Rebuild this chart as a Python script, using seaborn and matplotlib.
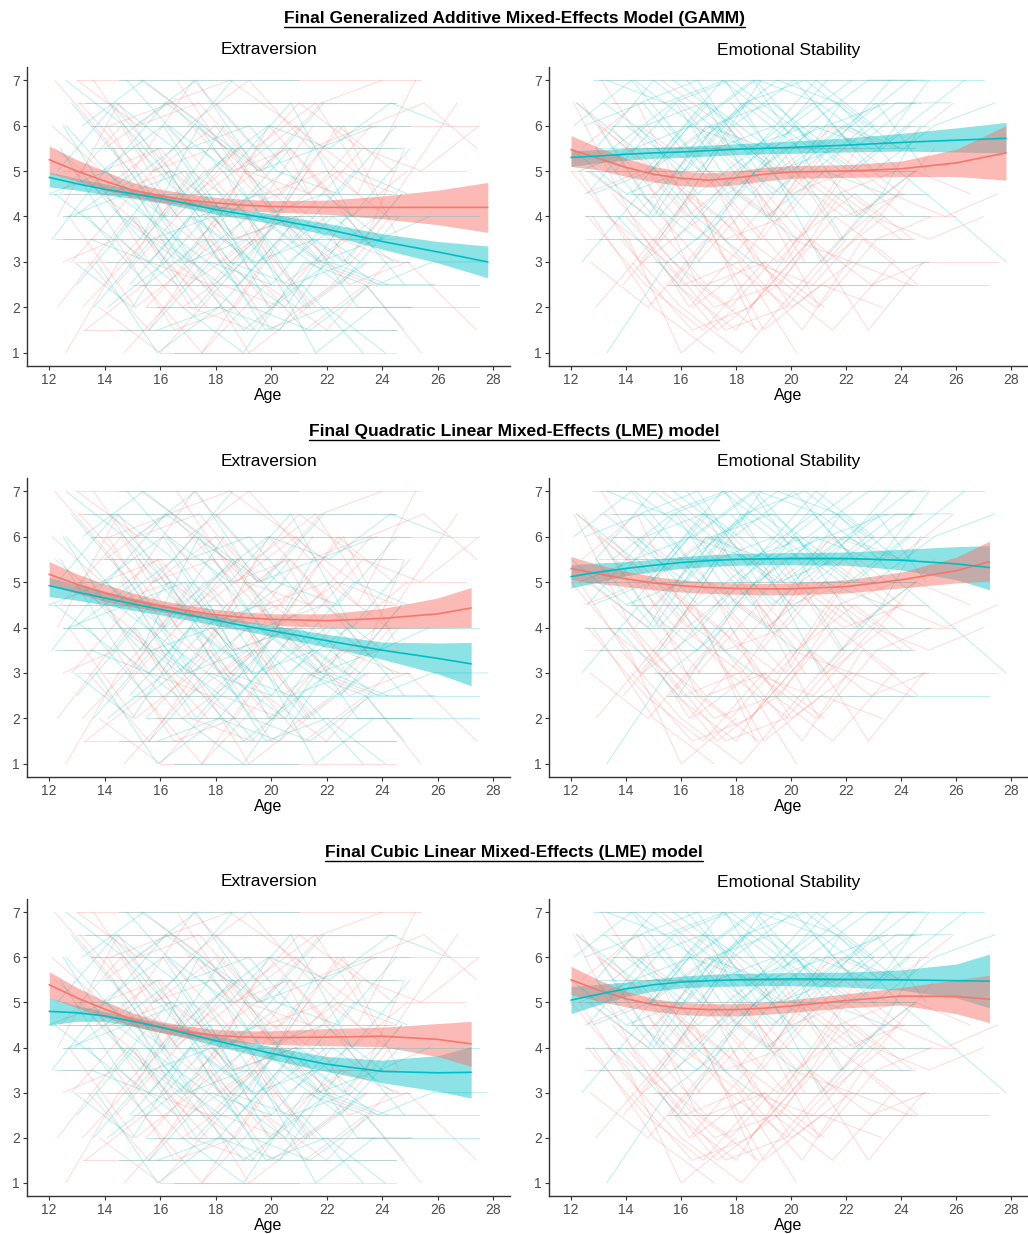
import matplotlib
matplotlib.use("Agg")
from matplotlib import pyplot as plt
from matplotlib.lines import Line2D
import pandas as pd
import seaborn as sns

RED = "#F8766D"
TEAL = "#00BFC4"

# ---------------- individual trajectories ----------------
ext_f_age = [
    [12.2, 14.3, 16.1, 18.2], [12.6, 14.5, 16.7, 18.9, 21.0], [13.0, 15.2, 17.4, 19.5],
    [12.3, 14.8, 16.9, 19.1, 21.4, 23.6], [13.5, 15.6, 17.8, 20.1, 22.3],
    [14.2, 16.4, 18.6, 20.7, 22.9, 24.9], [12.1, 13.9, 16.0], [15.0, 17.1, 19.3, 21.5, 23.7],
    [12.8, 15.0, 17.2, 19.6, 21.8, 24.0], [13.3, 15.4, 17.5, 19.7], [16.0, 18.1, 20.3, 22.5, 24.6],
    [14.6, 16.8, 19.0, 21.2, 23.4, 25.4], [12.4, 14.6, 16.6], [17.0, 19.2, 21.4, 23.5, 25.5, 27.4],
    [13.8, 16.0, 18.2, 20.4], [15.3, 17.6, 19.8, 22.0, 24.2], [12.9, 14.9, 17.0, 19.4, 21.6],
    [18.5, 20.6, 22.8, 24.9, 27.4], [14.0, 16.3, 18.5, 20.8, 23.0], [12.5, 14.4, 16.5, 18.7],
    [16.5, 18.7, 20.9, 23.1, 25.2], [13.1, 15.3, 17.3, 19.5, 21.7, 23.8], [14.4, 16.6, 18.8],
    [12.7, 15.1, 17.2, 19.2, 21.3], [15.7, 17.9, 20.2, 22.4, 24.5, 26.7], [13.6, 15.8, 18.0, 20.1],
    [17.5, 19.8, 22.0, 24.2], [12.2, 14.2, 16.4, 18.6, 20.9], [14.9, 17.1, 19.3, 21.5],
    [16.2, 18.4, 20.5, 22.7, 24.7], [13.2, 15.5, 17.7], [19.0, 21.1, 23.3, 25.4, 27.5],
    [14.1, 16.2, 18.3, 20.4, 22.6], [15.5, 17.7, 19.9, 22.1], [13.7, 15.9, 18.1, 20.2, 22.4, 24.4],
    [16.6, 18.8, 21.0, 23.2], [14.7, 16.9, 19.1, 21.3, 23.5], [12.3, 14.5, 16.7, 18.9],
    [17.8, 20.0, 22.2, 24.3], [15.0, 17.2, 19.4, 21.6, 23.7], [13.4, 15.6, 17.8, 20.0],
    [16.9, 19.1, 21.3, 23.4, 24.8], [14.3, 16.5, 18.7, 20.9], [18.2, 20.4, 22.6, 24.6],
]
ext_f_val = [
    [7, 5.5, 4, 3], [1, 3, 4.5, 3.5, 5], [7, 6, 6.5, 5],
    [2, 4, 3, 5, 4.5, 6], [5, 3, 2.5, 4, 3],
    [6, 6.5, 5, 5.5, 4, 5], [6, 5, 5.5], [4, 2, 1.5, 3, 2.5],
    [3, 4.5, 6, 5, 6.5, 7], [1.5, 2.5, 1, 3], [5.5, 4, 4.5, 3.5, 3],
    [3.5, 2, 3, 1.5, 2.5, 1], [4.5, 6, 4], [6, 7, 5.5, 6, 6.5, 5.5],
    [2, 1, 2.5, 2], [7, 6, 4.5, 5, 4], [5, 4, 2.5, 3.5, 2],
    [3, 4, 2.5, 3, 1.5], [5.5, 6.5, 7, 6, 5], [3, 3.5, 1.5, 2],
    [4, 5, 6, 4.5, 7], [6.5, 5, 3.5, 4.5, 3, 4], [2.5, 4, 5.5],
    [4, 2, 3, 1, 2], [5, 5.5, 4, 5, 4.5, 6.5], [7, 5, 6, 4],
    [1, 2.5, 1.5, 3], [5.5, 4.5, 5, 3.5, 4], [3, 5, 4, 6],
    [6, 4.5, 5.5, 3, 4.5], [2, 3.5, 2], [5, 4, 5.5, 5, 6],
    [6, 4, 5, 2.5, 3.5], [2, 3.5, 6, 4.5], [4.5, 5.5, 3, 4, 6, 5],
    [7, 5, 6.5, 5.5], [1, 2.5, 4, 2, 3], [4, 6.5, 4.5, 5.5],
    [3.5, 1.5, 2.5, 4], [5, 7, 5.5, 6.5, 4.5], [3, 1.5, 3.5, 2],
    [4.5, 3, 5, 3.5, 5.5], [5.5, 3, 2, 4], [6, 4.5, 6, 3.5],
]
ext_m_age = [
    [12.1, 14.0, 16.1, 18.3], [12.8, 14.9, 17.1, 19.2, 21.4], [13.4, 15.5, 17.6, 19.8, 22.0, 24.1],
    [12.3, 14.4, 16.5, 18.6], [14.1, 16.2, 18.4, 20.6, 22.8], [15.2, 17.4, 19.6, 21.8, 23.9, 25.9],
    [12.6, 14.7, 16.9], [13.7, 15.9, 18.1, 20.3, 22.5], [16.3, 18.5, 20.7, 22.9, 25.0],
    [12.2, 14.3, 16.3, 18.5, 20.7, 22.9], [14.8, 17.0, 19.2, 21.3], [13.0, 15.1, 17.3, 19.4, 21.6, 23.7],
    [17.2, 19.4, 21.6, 23.8, 25.8, 27.8], [12.5, 14.6, 16.7, 18.8], [15.6, 17.8, 20.0, 22.2, 24.4],
    [13.9, 16.1, 18.3, 20.5], [12.9, 15.0, 17.1, 19.3, 21.5], [18.0, 20.2, 22.4, 24.5],
    [14.3, 16.5, 18.7, 20.9, 23.1, 25.1], [12.4, 14.5, 16.6], [16.8, 19.0, 21.2, 23.4, 24.8],
    [13.2, 15.4, 17.5, 19.7, 21.9], [15.4, 17.6, 19.8, 22.0], [12.7, 14.8, 17.0, 19.1, 21.2, 23.4],
    [14.6, 16.8, 19.0, 21.1, 23.3], [17.7, 19.9, 22.1, 24.3, 26.4], [12.0, 14.1, 16.2, 18.4],
    [13.6, 15.7, 17.9, 20.0], [16.0, 18.2, 20.4, 22.6, 24.7], [19.5, 21.7, 23.9, 25.7],
    [13.1, 15.3, 17.4, 19.6, 21.8], [14.9, 17.1, 19.3, 21.4, 23.6], [12.6, 14.8, 16.9, 19.0],
    [16.4, 18.6, 20.8, 23.0, 24.9], [14.2, 16.4, 18.5, 20.7], [15.9, 18.1, 20.3, 22.5, 24.6],
    [13.5, 15.6, 17.8, 19.9, 22.1, 24.2], [17.5, 19.7, 21.9, 24.0], [12.9, 15.1, 17.2, 19.4],
    [15.1, 17.3, 19.5, 21.7, 23.8], [18.3, 20.5, 22.7, 24.8], [14.4, 16.6, 18.8, 21.0, 23.2],
]
ext_m_val = [
    [3.5, 5, 4, 6], [6.5, 5, 3, 4, 2], [4, 2.5, 3.5, 1.5, 2, 1],
    [5, 6.5, 5.5, 7], [2, 3, 4.5, 3, 4], [5.5, 4, 4.5, 3, 2.5, 2.5],
    [7, 6, 4.5], [3, 1, 2, 1.5, 3.5], [6, 5, 6.5, 4, 5.5],
    [4.5, 3.5, 5, 3, 2.5, 3], [7, 5.5, 6, 4.5], [2.5, 4, 2, 3.5, 1, 2],
    [4, 3, 3.5, 2.5, 3, 3], [6, 4, 3, 4.5], [1.5, 3, 2.5, 4, 3],
    [5, 6, 4, 5], [3, 2, 4, 3, 5.5], [6.5, 5, 4.5, 6],
    [4.5, 5.5, 3.5, 4, 2, 2], [5.5, 3.5, 2.5], [2, 1, 3, 2.5, 1.5],
    [6, 7, 6, 5, 6.5], [3.5, 5, 3, 4], [4, 4.5, 3, 3.5, 2, 3],
    [5, 3, 1.5, 2.5, 1], [5, 6, 5.5, 6.5, 6], [4.5, 5, 6.5, 5.5],
    [2, 3.5, 4, 2.5], [3.5, 2.5, 4, 3, 4.5], [4, 3, 3.5, 4],
    [5, 3.5, 6, 4, 3], [2.5, 4, 2, 1.5, 2.5], [6, 4.5, 5, 3],
    [4, 5.5, 3.5, 5, 4.5], [6.5, 5, 4, 5.5], [1.5, 2, 3.5, 2.5, 4],
    [3.5, 3, 4.5, 2, 3, 2.5], [5.5, 4, 4.5, 3.5], [4, 5, 3, 1.5],
    [6, 7, 5, 5.5, 6], [3, 2, 4, 2.5], [4.5, 3.5, 2.5, 4, 3],
]
es_f_age = [
    [12.1, 14.2, 16.3, 18.4], [12.6, 14.7, 16.8, 19.0, 21.2], [13.1, 15.3, 17.4, 19.6, 21.8, 23.9],
    [12.3, 14.5, 16.5, 18.7], [13.8, 16.0, 18.2, 20.3, 22.5], [14.5, 16.7, 18.9, 21.0, 23.2, 25.2],
    [12.4, 14.4, 16.4], [15.2, 17.3, 19.5, 21.6, 23.8], [12.9, 15.0, 17.1, 19.3, 21.4, 23.5],
    [16.1, 18.3, 20.4, 22.6, 24.6], [13.4, 15.6, 17.7, 19.9], [17.0, 19.2, 21.4, 23.6, 25.6, 27.5],
    [14.0, 16.1, 18.1, 20.2], [12.2, 14.0, 16.2, 18.3, 20.5], [15.6, 17.8, 20.0, 22.2, 24.3],
    [13.3, 15.5, 17.6, 19.8, 22.0], [18.0, 20.1, 22.3, 24.5, 26.5], [14.8, 17.0, 19.1, 21.3, 23.4],
    [12.7, 14.8, 16.9], [16.4, 18.6, 20.8, 23.0, 25.0, 27.0], [13.6, 15.8, 17.9, 20.0, 22.1],
    [12.5, 14.6, 16.6, 18.8], [15.9, 18.1, 20.2, 22.4], [14.2, 16.4, 18.5, 20.7, 22.8, 24.8],
    [17.4, 19.6, 21.8, 24.0], [12.0, 14.1, 16.0, 18.0], [13.9, 16.0, 18.2, 20.4, 22.6],
    [19.5, 21.6, 23.8, 25.9], [15.3, 17.5, 19.7, 21.9, 24.1], [12.8, 15.0, 17.2],
    [13.5, 15.7, 17.8, 20.0, 22.2], [15.0, 17.2, 19.4, 21.5, 23.7], [12.6, 14.8, 16.9, 19.1],
    [16.6, 18.8, 21.0, 23.1, 25.1], [14.3, 16.5, 18.7, 20.9], [15.8, 18.0, 20.2, 22.3, 24.4],
    [13.0, 15.1, 17.3, 19.5, 21.7, 23.8], [17.6, 19.8, 22.0, 24.1], [14.6, 16.8, 19.0, 21.1, 23.3],
    [12.4, 14.6, 16.7], [18.5, 20.7, 22.9, 24.9], [15.4, 17.6, 19.8, 21.9, 24.0],
]
es_f_val = [
    [6.5, 4, 2, 3.5], [4, 2.5, 1.5, 3, 2], [7, 5, 4, 5.5, 3.5, 4.5],
    [5, 3, 4.5, 1.5], [3.5, 2, 1, 2.5, 4], [6, 5, 3.5, 5, 4, 5.5],
    [5.5, 6.5, 4], [3, 1.5, 2.5, 4, 3], [2, 3.5, 5, 4, 6, 5],
    [4.5, 3, 1.5, 3.5, 2.5], [6, 4.5, 3, 2], [5, 4, 5.5, 4.5, 4, 4.5],
    [4, 2.5, 3, 1], [6.5, 5.5, 4, 5, 3], [2.5, 4, 2, 3, 2.5],
    [4, 3, 1.5, 2, 3.5], [3.5, 5, 4, 5, 4.5], [5, 6, 4.5, 3, 4],
    [3, 2, 3.5], [2, 3, 2.5, 4, 3.5, 4], [5.5, 4, 6, 4.5, 5],
    [4.5, 5, 2.5, 1.5], [6.5, 5, 3.5, 5.5], [3, 1.5, 2, 3.5, 1.5, 3],
    [4, 2.5, 4.5, 3.5], [5, 3.5, 1, 2], [2.5, 4, 3, 5, 4],
    [5, 6, 5.5, 6.5], [7, 6, 5, 4, 4.5], [4, 2, 1],
    [4.5, 3, 2, 3.5, 3], [3.5, 2, 2.5, 1.5, 3], [5, 4, 2.5, 3],
    [3, 4.5, 2, 3.5, 4], [4, 5.5, 3, 2], [2.5, 1.5, 3.5, 4.5, 3.5],
    [6, 5, 4, 3, 4.5, 5], [4.5, 3, 5, 4], [3, 4, 1.5, 2.5, 2],
    [6.5, 4.5, 3], [2, 3.5, 2.5, 3], [5, 3.5, 4, 5.5, 4.5],
]
es_m_age = [
    [12.1, 14.2, 16.3, 18.5], [12.7, 14.8, 16.9, 19.1, 21.3], [13.3, 15.4, 17.6, 19.7, 21.9, 24.0],
    [12.4, 14.5, 16.6, 18.7], [14.0, 16.2, 18.3, 20.5, 22.7], [15.1, 17.3, 19.5, 21.7, 23.8, 25.8],
    [13.3, 15.5, 17.6], [12.9, 15.0, 17.1, 19.3, 21.4], [16.2, 18.4, 20.6, 22.8, 24.9],
    [13.7, 15.9, 18.0, 20.2], [12.2, 14.3, 16.4, 18.6, 20.8, 23.0], [14.7, 16.9, 19.1, 21.2, 23.4],
    [17.3, 19.5, 21.7, 23.9, 25.9, 27.8], [12.6, 14.7, 16.8], [15.8, 18.0, 20.2, 22.4, 24.5],
    [13.0, 15.2, 17.3, 19.4], [18.6, 20.8, 23.0, 25.2, 27.4], [14.3, 16.5, 18.6, 20.8, 22.9],
    [12.3, 14.4, 16.5, 18.6], [16.7, 18.9, 21.1, 23.3, 24.7], [13.5, 15.7, 17.8, 20.0, 22.2],
    [15.5, 17.7, 19.8, 21.9], [12.8, 14.9, 17.0, 19.2, 21.3, 23.5], [20.0, 22.1, 24.2, 26.3],
    [14.5, 16.6, 18.8, 21.0], [12.0, 14.0, 16.1, 18.2, 20.3],
    [13.2, 15.4, 17.5, 19.6, 21.8], [14.9, 17.1, 19.3, 21.4, 23.6], [12.5, 14.6, 16.7, 18.9],
    [16.5, 18.7, 20.9, 23.1, 24.9], [14.2, 16.3, 18.5, 20.7], [15.7, 17.9, 20.1, 22.3, 24.4],
    [13.6, 15.8, 18.0, 20.1, 22.3, 24.3], [17.8, 20.0, 22.2, 24.3], [12.9, 15.0, 17.2, 19.3],
    [15.2, 17.4, 19.6, 21.8, 23.9], [18.8, 21.0, 23.2, 25.0], [14.4, 16.6, 18.7, 20.9, 23.0],
]
es_m_val = [
    [6, 7, 5.5, 6.5], [5, 4, 6, 5.5, 7], [7, 6.5, 7, 5, 6, 5.5],
    [3, 4.5, 3.5, 5], [6, 5, 6.5, 7, 6], [4.5, 6, 5, 5.5, 6.5, 6.5],
    [1, 3, 4], [5.5, 7, 6, 4.5, 5.5], [7, 5.5, 6, 7, 7],
    [4, 2.5, 4.5, 3.5], [6.5, 5.5, 6, 7, 5, 6], [5, 6.5, 4, 5, 4.5],
    [6, 7, 6.5, 5, 4, 3], [4.5, 6, 6.5], [3.5, 5, 6, 4, 5],
    [6, 4, 5.5, 6], [5.5, 6.5, 5, 6, 6.5], [7, 6, 4.5, 6, 5.5],
    [5, 5.5, 4, 3], [4, 5.5, 3, 4.5, 6], [5.5, 6.5, 7, 6, 7],
    [6, 4.5, 5.5, 3.5], [4.5, 5, 6.5, 5.5, 6, 6.5], [6, 5, 6, 7],
    [6.5, 7, 5, 6], [5.5, 4.5, 5, 6.5, 5.5],
    [6.5, 5.5, 7, 6, 5], [5, 6, 6.5, 5.5, 7], [6, 6.5, 5, 7],
    [6, 7, 5.5, 6.5, 5], [4.5, 6, 5.5, 4], [7, 6, 7, 5.5, 6.5],
    [5, 6.5, 4.5, 6, 5, 6], [6.5, 5, 6, 7], [5.5, 4, 6, 5],
    [3.5, 5.5, 4.5, 6.5, 5.5], [7, 6.5, 5.5, 7], [6, 4.5, 5.5, 7, 6],
]

# people with the same score at every wave (the long horizontal lines)
ext_flat_level = [7, 7, 6.5, 6.5, 6, 6, 5.5, 5.5, 5, 5, 4.5, 4.5, 4, 4, 3.5, 3.5, 3, 3, 2.5, 2.5, 2, 2, 1.5, 1.5, 1, 1]
ext_flat_start = [13.0, 14.5, 13.0, 13.3, 13.5, 13.5, 13.5, 14.0, 12.5, 13.0, 12.0, 12.5, 12.5, 12.5, 12.5, 12.2,
                  13.0, 14.0, 15.0, 15.2, 15.5, 15.8, 13.2, 14.5, 16.0, 16.5]
ext_flat_end = [25.4, 21.0, 24.5, 24.5, 27.4, 25.0, 24.7, 24.5, 27.0, 24.5, 24.5, 24.3, 27.5, 24.5, 24.5, 24.0,
                25.0, 25.0, 27.5, 22.0, 27.5, 25.0, 24.5, 24.5, 24.5, 21.0]
ext_flat_sex = ["F", "M", "F", "M", "F", "M", "M", "F", "F", "M", "M", "F", "M", "F", "F", "M",
                "F", "M", "M", "F", "M", "F", "F", "M", "F", "M"]

es_flat_level = [7, 7, 6.5, 6.5, 6, 6, 5.5, 5.5, 5, 5, 4.5, 4.5, 4, 4, 3.5, 3.5, 3, 3, 2.5, 2.5]
es_flat_start = [12.8, 13.0, 13.0, 13.5, 13.5, 13.5, 13.0, 14.0, 12.0, 12.5, 14.0, 14.2, 12.5, 12.5, 12.5, 13.0,
                 14.5, 15.0, 15.5, 15.5]
es_flat_end = [27.0, 24.5, 24.7, 24.5, 25.0, 24.5, 24.5, 23.0, 24.5, 24.5, 25.0, 24.8, 26.0, 25.0, 24.5, 24.3,
               27.5, 25.0, 27.2, 24.5]
es_flat_sex = ["M", "F", "F", "M", "M", "F", "M", "F", "F", "M", "M", "F", "F", "M", "F", "M",
               "F", "M", "M", "F"]

# ---------------- model fits ----------------
gamm_age = [12, 13, 14, 15, 16, 17, 18, 19, 20, 22, 24, 26, 27.8]
lme_age = [12, 13, 14, 15, 16, 17, 18, 19, 20, 22, 24, 26, 27.2]

gamm_ext_f_fit = [5.25, 5.0, 4.78, 4.58, 4.45, 4.36, 4.3, 4.25, 4.22, 4.2, 4.2, 4.2, 4.2]
gamm_ext_f_hi = [5.55, 5.25, 5.0, 4.75, 4.6, 4.5, 4.42, 4.38, 4.35, 4.36, 4.45, 4.58, 4.75]
gamm_ext_f_lo = [4.95, 4.78, 4.58, 4.43, 4.32, 4.24, 4.18, 4.13, 4.1, 4.05, 3.95, 3.82, 3.65]
gamm_ext_m_fit = [4.86, 4.72, 4.6, 4.5, 4.4, 4.28, 4.15, 4.05, 3.95, 3.72, 3.45, 3.22, 3.0]
gamm_ext_m_hi = [4.98, 4.84, 4.72, 4.6, 4.5, 4.38, 4.25, 4.15, 4.06, 3.85, 3.62, 3.45, 3.35]
gamm_ext_m_lo = [4.65, 4.58, 4.48, 4.4, 4.3, 4.18, 4.05, 3.95, 3.85, 3.6, 3.28, 2.98, 2.65]

gamm_es_f_fit = [5.47, 5.28, 5.08, 4.93, 4.84, 4.8, 4.85, 4.93, 4.98, 5.0, 5.05, 5.18, 5.4]
gamm_es_f_hi = [5.78, 5.52, 5.28, 5.1, 5.0, 4.96, 5.0, 5.08, 5.12, 5.14, 5.22, 5.48, 6.0]
gamm_es_f_lo = [5.1, 5.03, 4.88, 4.76, 4.68, 4.65, 4.7, 4.78, 4.84, 4.86, 4.88, 4.88, 4.8]
gamm_es_m_fit = [5.3, 5.33, 5.37, 5.4, 5.42, 5.45, 5.48, 5.5, 5.52, 5.57, 5.63, 5.68, 5.72]
gamm_es_m_hi = [5.45, 5.47, 5.5, 5.52, 5.54, 5.57, 5.6, 5.63, 5.66, 5.73, 5.83, 5.95, 6.07]
gamm_es_m_lo = [5.1, 5.18, 5.24, 5.28, 5.3, 5.33, 5.36, 5.38, 5.39, 5.42, 5.44, 5.42, 5.4]

quad_ext_f_fit = [5.17, 4.95, 4.76, 4.6, 4.47, 4.37, 4.28, 4.22, 4.18, 4.15, 4.2, 4.3, 4.43]
quad_ext_f_hi = [5.45, 5.18, 4.96, 4.76, 4.6, 4.49, 4.4, 4.34, 4.3, 4.3, 4.42, 4.65, 4.88]
quad_ext_f_lo = [4.93, 4.75, 4.58, 4.45, 4.35, 4.25, 4.17, 4.1, 4.05, 4.0, 3.98, 3.99, 4.0]
quad_ext_m_fit = [4.92, 4.78, 4.65, 4.52, 4.4, 4.28, 4.16, 4.04, 3.93, 3.71, 3.5, 3.32, 3.2]
quad_ext_m_hi = [5.1, 4.94, 4.8, 4.65, 4.52, 4.39, 4.27, 4.15, 4.05, 3.85, 3.68, 3.66, 3.67]
quad_ext_m_lo = [4.68, 4.6, 4.5, 4.38, 4.28, 4.16, 4.05, 3.93, 3.81, 3.57, 3.3, 2.98, 2.72]

quad_es_f_fit = [5.3, 5.18, 5.07, 4.98, 4.92, 4.88, 4.86, 4.85, 4.85, 4.9, 5.05, 5.25, 5.45]
quad_es_f_hi = [5.56, 5.38, 5.24, 5.12, 5.05, 5.0, 4.98, 4.97, 4.98, 5.05, 5.22, 5.55, 5.9]
quad_es_f_lo = [5.05, 4.97, 4.9, 4.83, 4.78, 4.75, 4.73, 4.72, 4.72, 4.76, 4.87, 4.98, 5.02]
quad_es_m_fit = [5.12, 5.22, 5.3, 5.37, 5.43, 5.47, 5.5, 5.51, 5.52, 5.52, 5.48, 5.4, 5.32]
quad_es_m_hi = [5.38, 5.42, 5.45, 5.5, 5.56, 5.6, 5.63, 5.64, 5.65, 5.66, 5.72, 5.78, 5.8]
quad_es_m_lo = [4.87, 5.0, 5.14, 5.23, 5.3, 5.34, 5.37, 5.38, 5.38, 5.37, 5.27, 5.05, 4.83]

cub_ext_f_fit = [5.39, 5.1, 4.85, 4.62, 4.45, 4.34, 4.27, 4.23, 4.22, 4.23, 4.25, 4.18, 4.08]
cub_ext_f_hi = [5.68, 5.33, 5.03, 4.77, 4.58, 4.47, 4.4, 4.37, 4.37, 4.42, 4.45, 4.53, 4.58]
cub_ext_f_lo = [5.1, 4.88, 4.67, 4.48, 4.33, 4.22, 4.14, 4.1, 4.07, 4.04, 4.02, 3.8, 3.58]
cub_ext_m_fit = [4.8, 4.77, 4.7, 4.58, 4.45, 4.3, 4.15, 4.01, 3.87, 3.63, 3.47, 3.44, 3.45]
cub_ext_m_hi = [5.1, 4.93, 4.8, 4.68, 4.55, 4.41, 4.27, 4.14, 4.02, 3.8, 3.72, 3.82, 4.02]
cub_ext_m_lo = [4.5, 4.58, 4.58, 4.47, 4.34, 4.2, 4.04, 3.89, 3.73, 3.47, 3.22, 3.03, 2.88]

cub_es_f_fit = [5.5, 5.27, 5.08, 4.95, 4.87, 4.84, 4.84, 4.87, 4.92, 5.04, 5.14, 5.13, 5.07]
cub_es_f_hi = [5.8, 5.5, 5.25, 5.08, 5.0, 4.97, 4.97, 5.0, 5.06, 5.19, 5.33, 5.5, 5.6]
cub_es_f_lo = [5.17, 5.03, 4.9, 4.8, 4.73, 4.7, 4.7, 4.73, 4.78, 4.88, 4.94, 4.75, 4.55]
cub_es_m_fit = [5.05, 5.18, 5.3, 5.39, 5.45, 5.48, 5.5, 5.51, 5.52, 5.51, 5.5, 5.48, 5.47]
cub_es_m_hi = [5.35, 5.4, 5.45, 5.52, 5.58, 5.62, 5.64, 5.65, 5.66, 5.67, 5.72, 5.85, 6.07]
cub_es_m_lo = [4.75, 4.95, 5.13, 5.25, 5.32, 5.35, 5.36, 5.37, 5.37, 5.34, 5.27, 5.1, 4.88]

row_titles = ["Final Generalized Additive Mixed-Effects Model (GAMM)",
              "Final Quadratic Linear Mixed-Effects (LME) model",
              "Final Cubic Linear Mixed-Effects (LME) model"]
col_titles = ["Extraversion", "Emotional Stability"]


def spaghetti_frame(f_age, f_val, m_age, m_val, fl_level, fl_start, fl_end, fl_sex):
    rows = []
    uid = 0
    for sex, ages, vals in [("F", f_age, f_val), ("M", m_age, m_val)]:
        for a, v in zip(ages, vals):
            for x, y in zip(a, v):
                rows.append((uid, sex, x, y))
            uid += 1
    for lev, s, e, sx in zip(fl_level, fl_start, fl_end, fl_sex):
        rows.append((uid, sx, s, lev))
        rows.append((uid, sx, e, lev))
        uid += 1
    return pd.DataFrame(rows, columns=["id", "sex", "age", "score"])


traj = [
    spaghetti_frame(ext_f_age, ext_f_val, ext_m_age, ext_m_val,
                    ext_flat_level, ext_flat_start, ext_flat_end, ext_flat_sex),
    spaghetti_frame(es_f_age, es_f_val, es_m_age, es_m_val,
                    es_flat_level, es_flat_start, es_flat_end, es_flat_sex),
]

fits = [
    [(gamm_age, gamm_ext_f_fit, gamm_ext_f_lo, gamm_ext_f_hi, gamm_ext_m_fit, gamm_ext_m_lo, gamm_ext_m_hi),
     (gamm_age, gamm_es_f_fit, gamm_es_f_lo, gamm_es_f_hi, gamm_es_m_fit, gamm_es_m_lo, gamm_es_m_hi)],
    [(lme_age, quad_ext_f_fit, quad_ext_f_lo, quad_ext_f_hi, quad_ext_m_fit, quad_ext_m_lo, quad_ext_m_hi),
     (lme_age, quad_es_f_fit, quad_es_f_lo, quad_es_f_hi, quad_es_m_fit, quad_es_m_lo, quad_es_m_hi)],
    [(lme_age, cub_ext_f_fit, cub_ext_f_lo, cub_ext_f_hi, cub_ext_m_fit, cub_ext_m_lo, cub_ext_m_hi),
     (lme_age, cub_es_f_fit, cub_es_f_lo, cub_es_f_hi, cub_es_m_fit, cub_es_m_lo, cub_es_m_hi)],
]

sns.set_style("white")
plt.rcParams["font.family"] = ["Liberation Sans", "DejaVu Sans"]

W, H = 1028, 1234
fig = plt.figure(figsize=(W / 100, H / 100), dpi=100)

# axes boxes in pixels: (left, top, right, bottom)
col_x = [(27, 510), (549, 1028)]
row_y = [(67, 366), (478, 777), (899, 1196)]
row_title_y = [18, 431, 852]

palette = {"F": RED, "M": TEAL}
title_texts = []
for r in range(3):
    t = fig.text(0.5, 1 - row_title_y[r] / H, row_titles[r], ha="center", va="center",
                 fontsize=12.5, fontweight="bold", color="black")
    title_texts.append(t)
    for c in range(2):
        l, rr = col_x[c]
        tp, bt = row_y[r]
        ax = fig.add_axes([l / W, 1 - bt / H, (rr - l) / W, (bt - tp) / H])
        sns.lineplot(data=traj[c], x="age", y="score", hue="sex", units="id", estimator=None,
                     palette=palette, alpha=0.25, lw=0.75, legend=False, ax=ax)
        age, ff, fl, fh, mf, ml, mh = fits[r][c]
        ax.fill_between(age, ml, mh, color=TEAL, alpha=0.45, lw=0)
        ax.fill_between(age, fl, fh, color=RED, alpha=0.5, lw=0)
        fit_df = pd.DataFrame({"age": list(age) * 2, "score": list(ff) + list(mf),
                               "sex": ["F"] * len(age) + ["M"] * len(age)})
        sns.lineplot(data=fit_df, x="age", y="score", hue="sex", palette=palette,
                     lw=1.2, legend=False, ax=ax)
        ax.set_xlim(11.2, 28.6)
        ax.set_ylim(0.71, 7.29)
        ax.set_xticks(range(12, 29, 2))
        ax.set_yticks(range(1, 8))
        ax.set_title(col_titles[c], fontsize=12.5, pad=9, color="black")
        ax.set_xlabel("Age", fontsize=11.5, labelpad=1, color="black")
        ax.set_ylabel("")
        for s in ["top", "right"]:
            ax.spines[s].set_visible(False)
        for s in ["left", "bottom"]:
            ax.spines[s].set_color("#333333")
            ax.spines[s].set_linewidth(1.0)
        ax.tick_params(axis="both", length=3, width=0.8, color="#333333",
                       labelsize=10, labelcolor="#4D4D4D", pad=2, left=True, bottom=True)

# underline the row titles
fig.canvas.draw()
renderer = fig.canvas.get_renderer()
for t in title_texts:
    bb = t.get_window_extent(renderer=renderer)
    y = (bb.y0 - 1.5) / H
    fig.add_artist(Line2D([bb.x0 / W, bb.x1 / W], [y, y], color="black", lw=1.0,
                          transform=fig.transFigure))

fig.savefig("out.png", dpi=100)
